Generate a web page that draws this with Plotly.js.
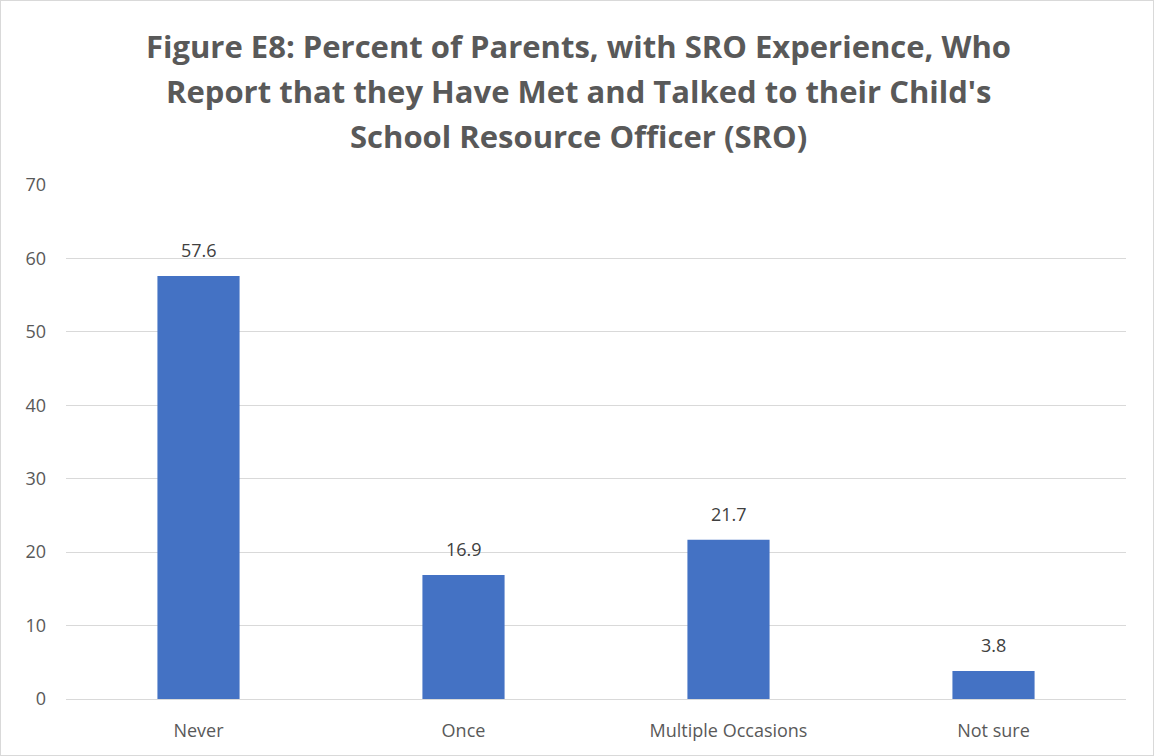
<!DOCTYPE html>
<html>
<head>
<meta charset="utf-8">
<script src="https://cdn.plot.ly/plotly-3.0.1.min.js"></script>
<style>
html,body{margin:0;padding:0;background:#fff;}
#chart{width:1154px;height:756px;box-sizing:border-box;border:1px solid #d9d9d9;}
</style>
</head>
<body>
<div id="chart"></div>
<script>
const categories = ["Never", "Once", "Multiple Occasions", "Not sure"];
const percents = [57.6, 16.9, 21.7, 3.8];
const yTicks = [0, 10, 20, 30, 40, 50, 60, 70];
const titleLines = [
  "Figure E8: Percent of Parents, with SRO Experience, Who",
  "Report that they Have Met and Talked to their Child's",
  "School Resource Officer (SRO)"
];

const trace = {
  type: "bar",
  x: categories,
  y: percents,
  marker: {color: "#4472c4"},
  width: 0.31,
  hoverinfo: "x+y"
};

// plot area: left 65, width 1060; top 184, bottom 698 in page pixels (height 514)
const plotLeft = 65, plotW = 1060;
const plotTop = 184, plotH = 514;
const titleCenters = [45, 90, 135];
const titleCenterX = 577;

const annotations = [];
titleLines.forEach((t, i) => {
  annotations.push({
    text: "<b>" + t + "</b>",
    xref: "paper", yref: "paper",
    x: (titleCenterX - plotLeft) / plotW, xanchor: "center",
    y: (plotTop + plotH - titleCenters[i]) / plotH, yanchor: "middle",
    showarrow: false,
    font: {family: "Open Sans, sans-serif", size: 31, color: "#595959"}
  });
});
categories.forEach((c, i) => {
  annotations.push({
    x: c, y: percents[i],
    xref: "x", yref: "y",
    text: percents[i].toFixed(1),
    showarrow: false,
    yanchor: "bottom",
    yshift: 12,
    font: {family: "Open Sans, sans-serif", size: 18, color: "#404040"}
  });
});

const layout = {
  width: 1152,
  height: 754,
  margin: {l: 65, r: 27, t: 184, b: 56},
  paper_bgcolor: "#ffffff",
  plot_bgcolor: "#ffffff",
  showlegend: false,
  bargap: 0.69,
  annotations: annotations,
  xaxis: {
    type: "category",
    showgrid: false,
    showline: true,
    linecolor: "#d9d9d9",
    linewidth: 1,
    ticks: "",
    tickfont: {family: "Open Sans, sans-serif", size: 18, color: "#595959"},
    ticklabelstandoff: 15,
    fixedrange: true
  },
  yaxis: {
    range: [0, 70],
    tickvals: yTicks,
    ticktext: yTicks.map(String),
    showgrid: true,
    gridcolor: "#d9d9d9",
    gridwidth: 1,
    zeroline: false,
    showline: false,
    ticks: "",
    tickfont: {family: "Open Sans, sans-serif", size: 18, color: "#595959"},
    ticklabelstandoff: 19,
    fixedrange: true
  },
  font: {family: "Open Sans, sans-serif", color: "#595959"}
};

Plotly.newPlot("chart", [trace], layout, {displayModeBar: false, responsive: false});
</script>
</body>
</html>
